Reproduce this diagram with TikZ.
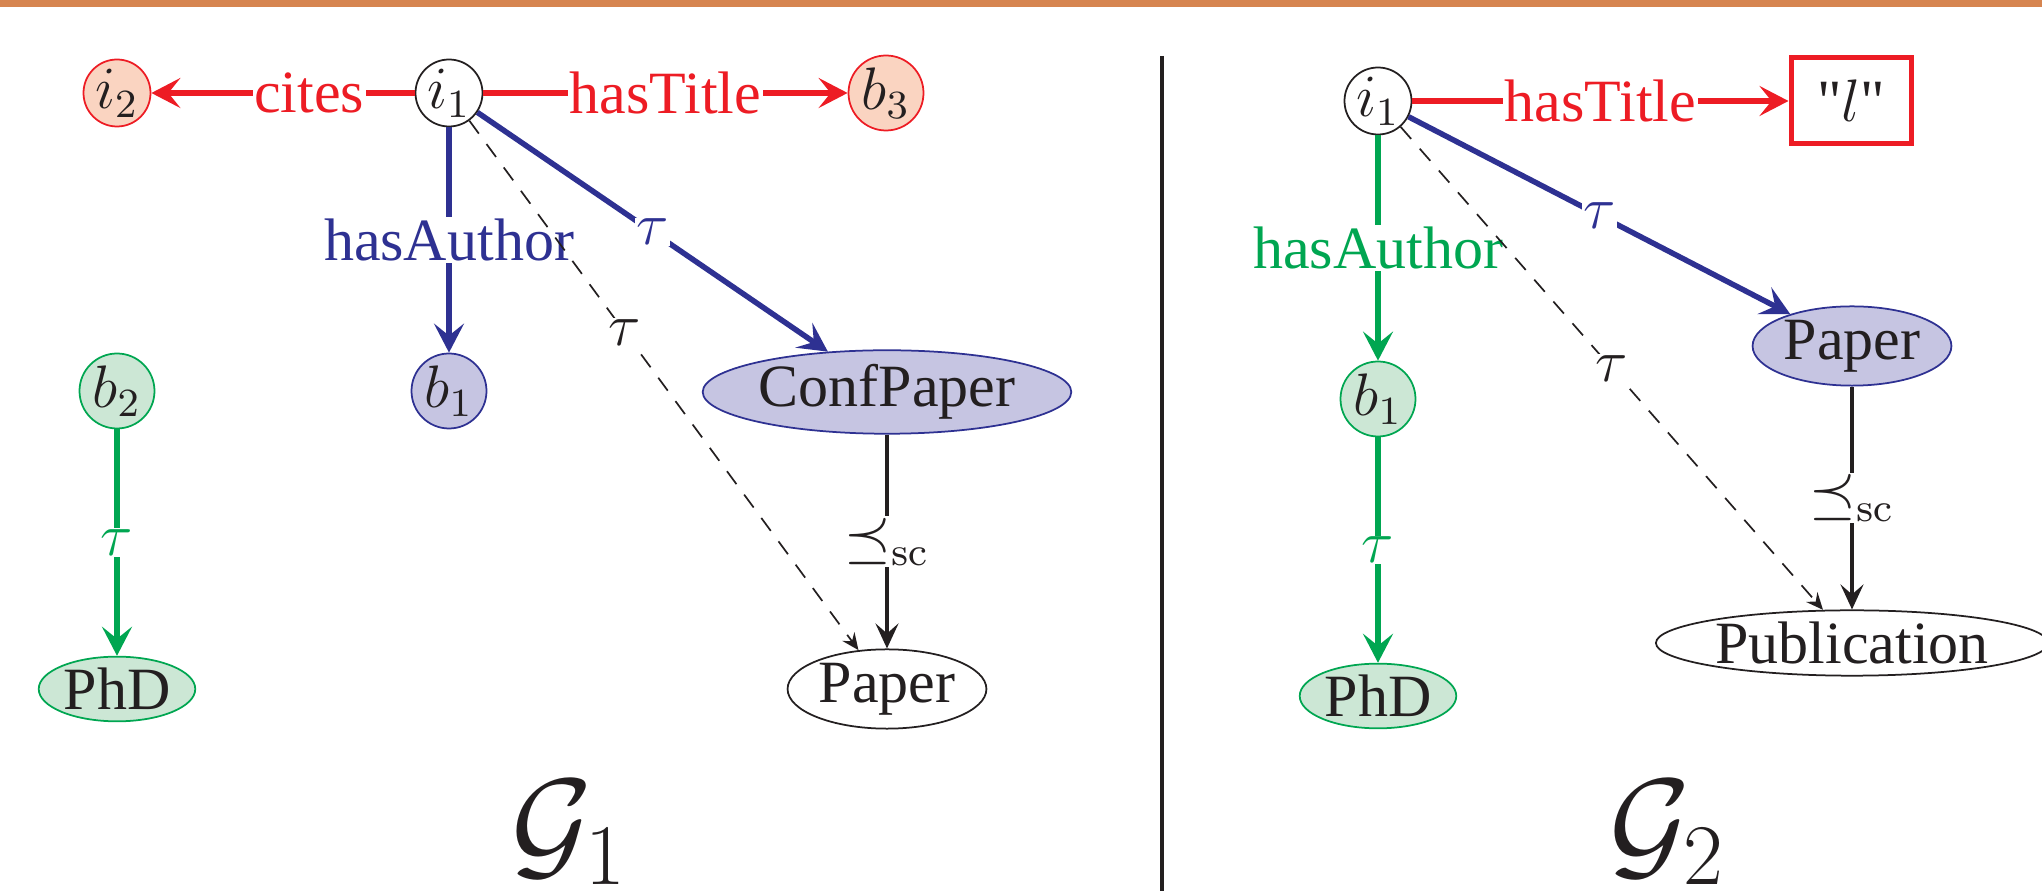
\documentclass[tikz,border=0pt]{standalone}
\usepackage[no-math]{fontspec}
\setmainfont{Liberation Serif}
% same face without the TeX quote mapping, for the straight double quotes
\newfontfamily\rawserif{Liberation Serif}[Ligatures=TeXOff]
\usetikzlibrary{shapes.geometric,arrows.meta}

\definecolor{edgered}{RGB}{237,28,36}
\definecolor{edgeblue}{RGB}{46,49,146}
\definecolor{edgegreen}{RGB}{0,166,81}
\definecolor{salmon}{RGB}{250,212,193}
\definecolor{lavender}{RGB}{198,197,226}
\definecolor{mint}{RGB}{204,231,213}
\definecolor{ink}{RGB}{35,31,32}
\definecolor{barorange}{RGB}{214,133,80}

\tikzset{
  vtx/.style={circle, inner sep=0pt, minimum size=13.4pt, line width=0.35pt},
  bvtx/.style={vtx, minimum size=15pt},
  cls/.style={ellipse, inner sep=0.4pt, line width=0.35pt},
  redn/.style={draw=edgered, fill=salmon},
  bluen/.style={draw=edgeblue, fill=lavender},
  greenn/.style={draw=edgegreen, fill=mint},
  plainn/.style={draw=ink, fill=white, text=ink},
  thickedge/.style={line width=1.1pt, -{Stealth[length=5.8pt,width=6pt,inset=2.4pt]}},
  scedge/.style={draw=ink, line width=0.66pt, -{Stealth[length=5pt,width=4.6pt,inset=2pt]}},
  typeedge/.style={draw=ink, line width=0.34pt, dash pattern=on 3.2pt off 2.6pt,
    -{Stealth[length=3.4pt,width=3pt,inset=1.2pt]}},
  lbl/.style={fill=white, inner sep=0.3pt},
  caption/.style={anchor=base west, text=ink, font=\fontsize{24.8}{30}\selectfont},
}

\begin{document}
\begin{tikzpicture}[x=0.2pt, y=-0.2pt, font=\fontsize{12}{14}\selectfont, text=ink]
\useasboundingbox (0,0) rectangle (2042,891);

% header band and panel divider
\fill[barorange] (0,0) rectangle (2042,7);
\coordinate (divtop) at (1162,56);
\coordinate (divbot) at (1162,891);
\draw[ink, line width=0.9pt] (divtop) -- (divbot);

% ---------- graph G1 ----------
\node[vtx, redn]   (i2)  at (117,93)  {$i_2$};
\node[vtx, plainn] (i1a) at (449,93)  {$i_1$};
\node[bvtx, redn]  (b3)  at (886,93)  {$b_3$};
\node[bvtx, bluen] (b1a) at (449,391) {$b_1$};
\node[bvtx, greenn](b2)  at (117,391) {$b_2$};
\node[cls, greenn] (phda) at (117,689) {PhD};
\node[cls, bluen]  (conf) at (887,392) {ConfPaper};
\node[cls, plainn] (papera) at (887,689) {Paper};

\draw[thickedge, edgered] (i1a) -- node[lbl, text=edgered, pos=0.4] {cites} (i2);
\draw[thickedge, edgered] (i1a) -- node[lbl, text=edgered] {hasTitle} (b3);
\draw[thickedge, edgeblue] (i1a) -- node[lbl, text=edgeblue] {hasAuthor} (b1a);
\draw[thickedge, edgeblue] (i1a) -- node[lbl, text=edgeblue] {$\tau$} (conf);
\draw[typeedge] (i1a) -- node[lbl, pos=0.4] {$\tau$} (papera);
\draw[thickedge, edgegreen] (b2) -- node[lbl, text=edgegreen] {$\tau$} (phda);
\draw[scedge] (conf) -- node[lbl] {$\preceq_{\mathrm{sc}}$} (papera);

\node[caption] (g1) at (494,866) {$\mathcal{G}_1$};

% ---------- graph G2 ----------
\node[vtx, plainn]  (i1b) at (1378,101) {$i_1$};
\node[draw=edgered, line width=1pt, fill=white, inner sep=0pt,
      minimum width=24pt, minimum height=17.2pt] (lit) at (1851,101)
      {{\rawserif "}$l${\rawserif "}};
\node[bvtx, greenn] (b1b) at (1378,399) {$b_1$};
\node[cls, greenn]  (phdb) at (1378,696) {PhD};
\node[cls, bluen]   (paperb) at (1852,346) {Paper};
\node[cls, plainn]  (pub) at (1852,643) {Publication};

\draw[thickedge, edgered] (i1b) -- node[lbl, text=edgered] {hasTitle} (lit);
\draw[thickedge, edgegreen] (i1b) -- node[lbl, text=edgegreen] {hasAuthor} (b1b);
\draw[thickedge, edgeblue] (i1b) -- node[lbl, text=edgeblue] {$\tau$} (paperb);
\draw[typeedge] (i1b) -- node[lbl, pos=0.5] {$\tau$} (pub);
\draw[thickedge, edgegreen] (b1b) -- node[lbl, text=edgegreen] {$\tau$} (phdb);
\draw[scedge] (paperb) -- node[lbl] {$\preceq_{\mathrm{sc}}$} (pub);

\node[caption] (g2) at (1592,866) {$\mathcal{G}_2$};
\end{tikzpicture}
\end{document}
